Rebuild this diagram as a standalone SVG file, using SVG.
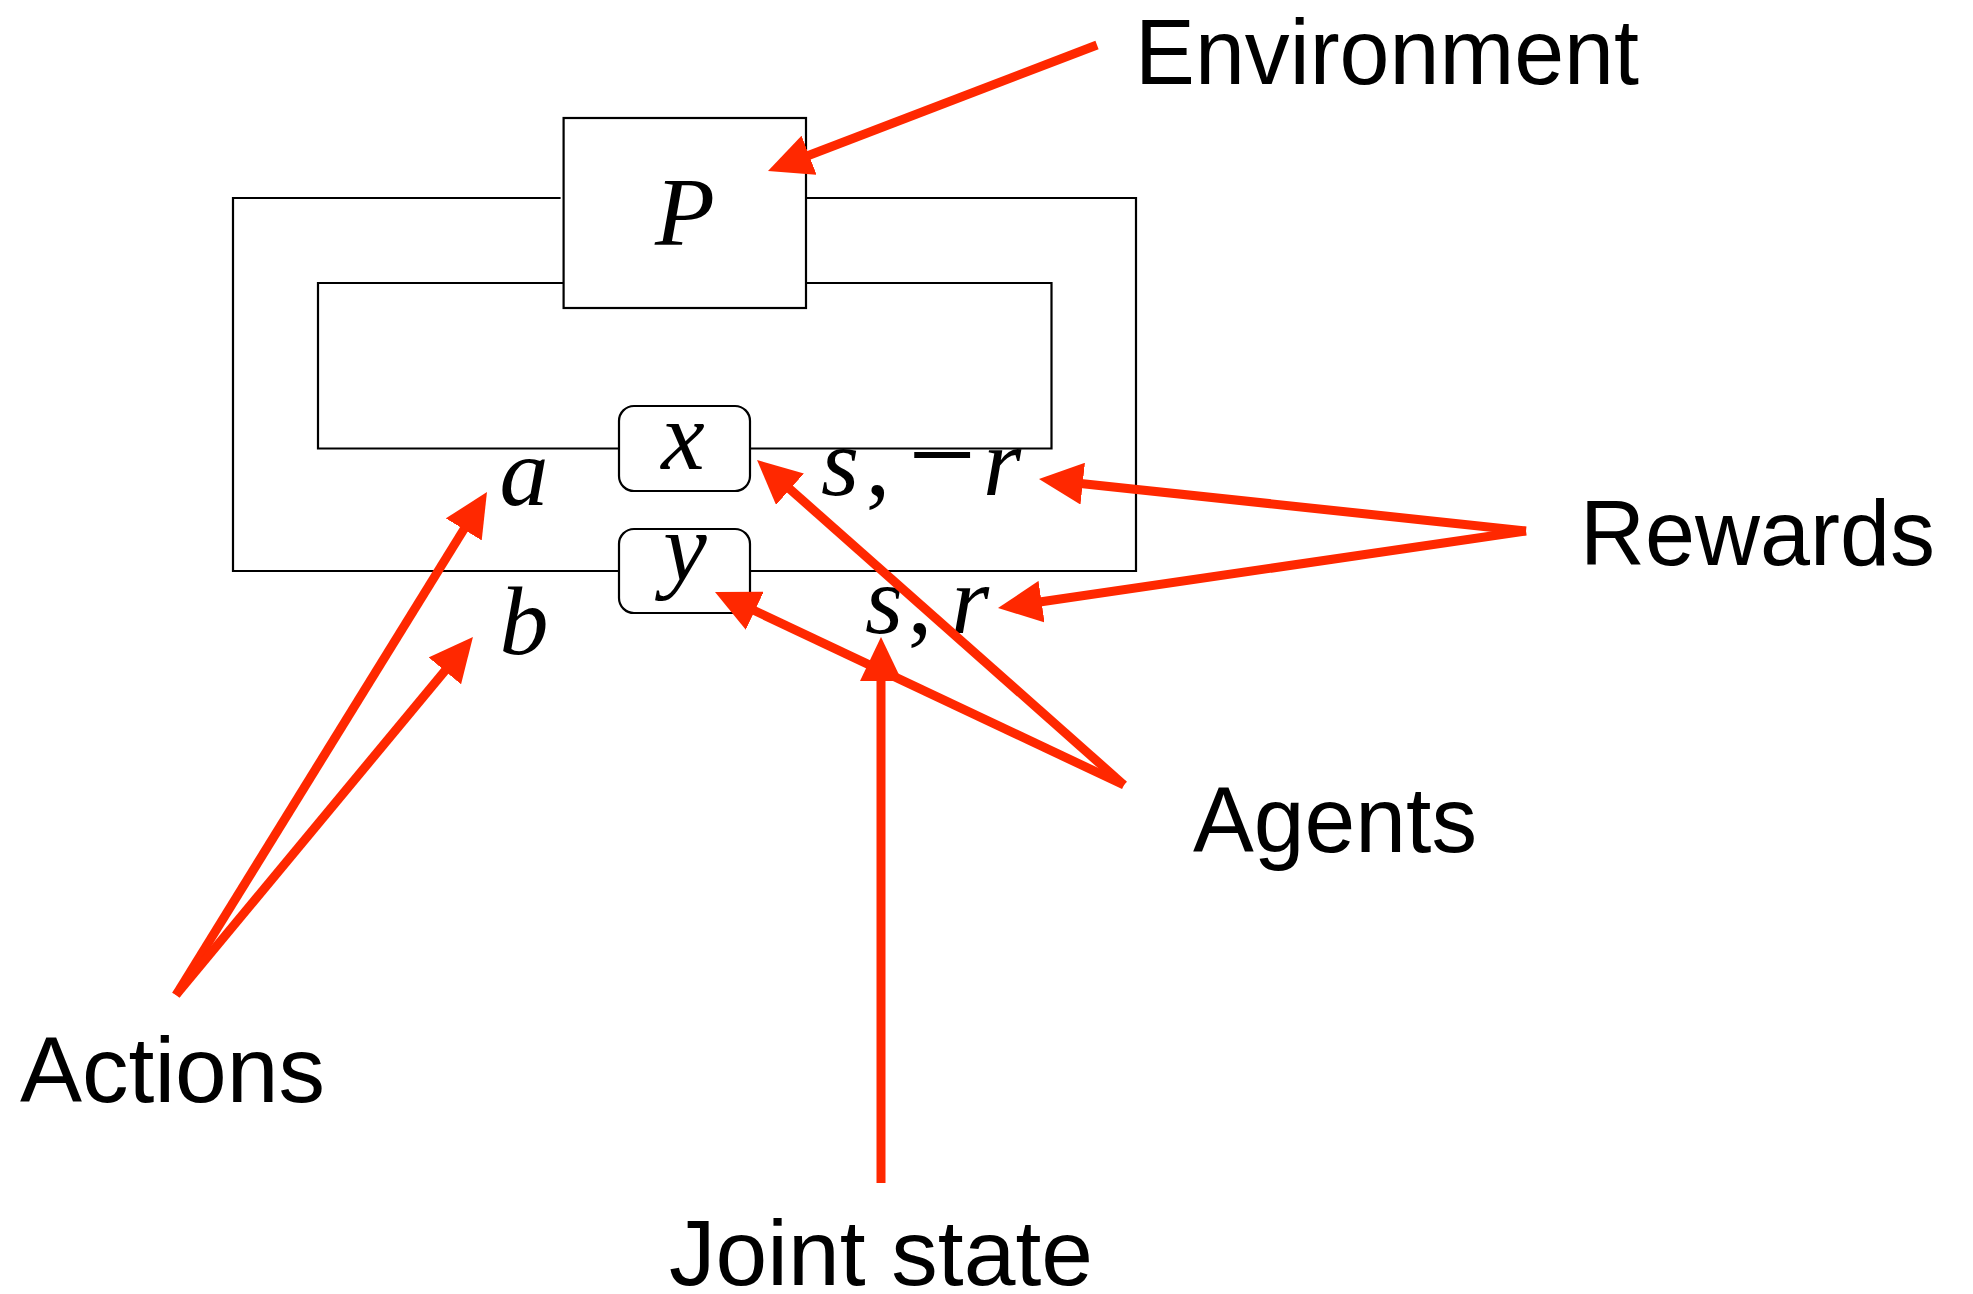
<svg xmlns="http://www.w3.org/2000/svg" width="1973" height="1294" viewBox="0 0 1973 1294">
<style>
.wire{fill:none;stroke:#000;stroke-width:2.2}
.box{fill:#fff;stroke:#000;stroke-width:2.2}
.math{font-family:"Liberation Serif","Times New Roman",serif;font-style:italic;font-size:98px;fill:#000;text-anchor:middle}
.lbl{font-family:"Liberation Sans",Arial,sans-serif;font-size:92px;fill:#000}
.arr{fill:none;stroke:#ff2800;stroke-width:9;marker-end:url(#ah)}
</style>
<defs>
<marker id="ah" markerUnits="userSpaceOnUse" viewBox="0 0 44 42" markerWidth="44" markerHeight="42" refX="14" refY="21" orient="auto">
<path d="M0,0 L44,21 L0,42 z" fill="#ff2800"/>
</marker>
</defs>
<g id="wires">
<path class="wire" d="M560.6,198 H233 V571 H619 M750,571 H1136 V198 H806"/>
<path class="wire" d="M563.6,283 H318 V448.5 H619 M750,448.5 H1051.5 V283 H806"/>
</g>
<g id="node-P"><rect class="box" x="563.6" y="118" width="242.4" height="190"/><text class="math" x="685" y="245">P</text></g>
<g id="node-x"><rect class="box" x="619" y="406" width="131" height="85" rx="15"/><text class="math" x="683" y="469">x</text></g>
<g id="node-y"><rect class="box" x="619" y="529" width="131" height="84" rx="15"/><text class="math" x="685" y="580">y</text></g>
<g id="label-a"><text class="math" x="524" y="505">a</text></g>
<g id="label-b"><text class="math" x="524" y="654">b</text></g>
<g id="label-s-minus-r"><text class="math" y="495"><tspan x="840">s</tspan><tspan x="878" font-style="normal">,</tspan><tspan x="942" font-style="normal" font-size="120">−</tspan><tspan x="1002">r</tspan></text></g>
<g id="label-s-r"><text class="math" y="633"><tspan x="884">s</tspan><tspan x="920" font-style="normal">,</tspan><tspan x="970">r</tspan></text></g>
<g id="label-Environment"><text class="lbl" x="1135" y="84" textLength="504" lengthAdjust="spacingAndGlyphs">Environment</text></g>
<g id="label-Rewards"><text class="lbl" x="1580" y="565" textLength="355" lengthAdjust="spacingAndGlyphs">Rewards</text></g>
<g id="label-Agents"><text class="lbl" x="1193" y="852" textLength="284" lengthAdjust="spacingAndGlyphs">Agents</text></g>
<g id="label-Actions"><text class="lbl" x="20" y="1102" textLength="305" lengthAdjust="spacingAndGlyphs">Actions</text></g>
<g id="label-Joint-state"><text class="lbl" x="669" y="1285" textLength="424" lengthAdjust="spacingAndGlyphs">Joint state</text></g>
<g id="connectors">
<line class="arr" x1="1097" y1="45" x2="796" y2="160.3"/>
<line class="arr" x1="1526" y1="531" x2="1068.8" y2="482.2"/>
<line class="arr" x1="1526" y1="531" x2="1027.7" y2="603.7"/>
<line class="arr" x1="1124" y1="785" x2="779.5" y2="479.9"/>
<line class="arr" x1="1124" y1="785" x2="742.1" y2="604.8"/>
<line class="arr" x1="881" y1="1183" x2="881" y2="667"/>
<line class="arr" x1="176" y1="995" x2="471.2" y2="517.5"/>
<line class="arr" x1="176" y1="995" x2="453.8" y2="660.1"/>
</g>
</svg>
